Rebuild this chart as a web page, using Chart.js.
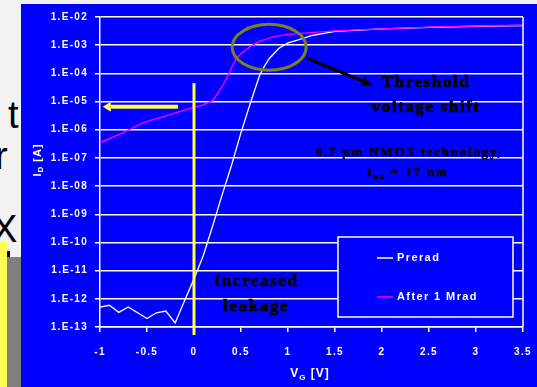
<!DOCTYPE html>
<html>
<head>
<meta charset="utf-8">
<script src="https://cdn.jsdelivr.net/npm/chart.js"></script>
<style>
body{margin:0;background:#f2f2f2;width:537px;height:387px;overflow:hidden;position:relative;font-family:"Liberation Sans",Arial,sans-serif;}
.ltr{position:absolute;font-size:38px;line-height:38px;color:#000;}
#box{position:absolute;left:21px;top:4px;width:516px;height:383px;background:#0000ff;}
</style>
</head>
<body>
<div class="ltr" style="left:8px;top:96px">t</div>
<div class="ltr" style="left:-5px;top:137px">r</div>
<div class="ltr" style="left:-8px;top:210px">X</div>
<div style="position:absolute;left:0;top:242px;width:7px;height:145px;background:#ffff55"></div>
<div style="position:absolute;left:7px;top:257px;width:15px;height:130px;background:#808080"></div>
<div style="position:absolute;left:7px;top:251px;width:3px;height:6px;background:#000"></div>
<div id="box"><canvas id="ivc"></canvas></div>
<script>
// gate voltage (V) and drain current (A)
var vgPre = [-1, -0.9, -0.8, -0.7, -0.5, -0.4, -0.3, -0.2, -0.1, 0, 0.1, 0.2, 0.3, 0.4, 0.5, 0.6, 0.7, 0.75, 0.8, 0.9, 1.0, 1.1, 1.25, 1.5, 2.0, 2.5, 3.0, 3.5];
var idPre = [5.1e-13, 5.9e-13, 3.3e-13, 5.1e-13, 2.0e-13, 3.2e-13, 3.7e-13, 1.4e-13, 8.7e-13, 5.1e-12, 3.5e-11, 4.0e-10, 5.0e-9, 5.6e-8, 7.9e-7, 8.9e-6, 8.9e-5, 1.8e-4, 3.3e-4, 7.6e-4, 1.2e-3, 1.5e-3, 2.2e-3, 3.1e-3, 3.8e-3, 4.3e-3, 4.7e-3, 5.0e-3];
var vgRad = [-1, -0.75, -0.54, -0.25, 0, 0.1, 0.2, 0.25, 0.3, 0.35, 0.4, 0.45, 0.5, 0.6, 0.7, 0.85, 1.0, 1.25, 1.5, 2.0, 2.5, 3.0, 3.5];
var idRad = [3.5e-7, 7.9e-7, 1.8e-6, 3.5e-6, 6.3e-6, 7.6e-6, 1.1e-5, 1.9e-5, 3.5e-5, 6.9e-5, 1.6e-4, 3.3e-4, 5.0e-4, 9.1e-4, 1.4e-3, 2.0e-3, 2.4e-3, 2.8e-3, 3.2e-3, 3.8e-3, 4.4e-3, 4.8e-3, 5.1e-3];
var seriesNames = ['Prerad', 'After 1 Mrad'];
var yDecades = [-13, -12, -11, -10, -9, -8, -7, -6, -5, -4, -3, -2];

function pts(xs, ys) {
    var out = [];
    for (var i = 0; i < xs.length; i++) out.push({x: xs[i], y: ys[i]});
    return out;
}

function say(ctx, s, x, y, font, sp, align, heavy) {
    ctx.font = font;
    ctx.letterSpacing = sp + 'px';
    ctx.textAlign = align || 'center';
    ctx.textBaseline = 'middle';
    ctx.fillText(s, x, y);
    if (heavy) {
        ctx.strokeStyle = ctx.fillStyle; ctx.lineWidth = heavy;
        ctx.strokeText(s, x, y);
    }
}

function arrow(ctx, x1, y1, x2, y2, w, head, hw, col) {
    var ang = Math.atan2(y2 - y1, x2 - x1);
    var bx = x2 - head * Math.cos(ang), by = y2 - head * Math.sin(ang);
    ctx.strokeStyle = col; ctx.fillStyle = col; ctx.lineWidth = w;
    ctx.beginPath(); ctx.moveTo(x1, y1); ctx.lineTo(bx, by); ctx.stroke();
    ctx.beginPath();
    ctx.moveTo(x2, y2);
    ctx.lineTo(bx + hw * Math.sin(ang), by - hw * Math.cos(ang));
    ctx.lineTo(bx - hw * Math.sin(ang), by + hw * Math.cos(ang));
    ctx.closePath(); ctx.fill();
}

var deco = {
    id: 'deco',
    beforeDraw: function(chart) {
        chart.ctx.letterSpacing = '1.3px';
    },
    afterDatasetsDraw: function(chart) {
        var ctx = chart.ctx, sx = chart.scales.x, sy = chart.scales.y, a = chart.chartArea;
        ctx.save();
        // right frame
        ctx.strokeStyle = '#ffffff'; ctx.lineWidth = 1.5;
        ctx.beginPath(); ctx.moveTo(a.right, a.top); ctx.lineTo(a.right, a.bottom); ctx.stroke();

        // yellow marker at VG = 0
        var x0 = sx.getPixelForValue(0);
        ctx.strokeStyle = '#ffff40'; ctx.lineWidth = 3;
        ctx.beginPath(); ctx.moveTo(x0, sy.getPixelForValue(4.5e-5)); ctx.lineTo(x0, a.bottom + 8); ctx.stroke();
        var ya = sy.getPixelForValue(6.5e-6);
        arrow(ctx, sx.getPixelForValue(-0.17), ya, sx.getPixelForValue(-0.97), ya, 4, 8, 5, '#ffff50');

        // olive ellipse round the knee
        ctx.strokeStyle = '#80801a'; ctx.lineWidth = 3;
        ctx.beginPath();
        ctx.ellipse(sx.getPixelForValue(0.8), sy.getPixelForValue(8.5e-4), 37, 23, 0, 0, Math.PI * 2);
        ctx.stroke();

        // black arrow
        arrow(ctx, sx.getPixelForValue(1.2), sy.getPixelForValue(3.5e-4),
              sx.getPixelForValue(1.9), sy.getPixelForValue(3.8e-5), 3, 11, 5, '#000000');

        // notes
        ctx.fillStyle = '#000000';
        var serif = '"Liberation Serif","Times New Roman",serif';
        say(ctx, 'Threshold', 405, 79, 'bold 17px ' + serif, 1.6, 'center', 0.7);
        say(ctx, 'voltage shift', 405, 104, 'bold 17px ' + serif, 1.6, 'center', 0.7);
        say(ctx, '0.7 \u03bcm NMOS technology,', 388, 149, 'bold 13px ' + serif, 1.8, 'center', 0.5);
        // t_ox = 17 nm
        ctx.letterSpacing = '1.8px';
        ctx.font = 'bold 13px ' + serif; var w1 = ctx.measureText('t').width;
        ctx.font = 'bold 9px ' + serif; var w2 = ctx.measureText('ox').width;
        ctx.font = 'bold 13px ' + serif; var w3 = ctx.measureText(' = 17 nm').width;
        var tx = 387 - (w1 + w2 + w3) / 2;
        say(ctx, 't', tx, 169, 'bold 13px ' + serif, 1.8, 'left', 0.5);
        say(ctx, 'ox', tx + w1, 173, 'bold 9px ' + serif, 1.8, 'left', 0.4);
        say(ctx, ' = 17 nm', tx + w1 + w2, 169, 'bold 13px ' + serif, 1.8, 'left', 0.5);
        say(ctx, 'Increased', 235, 278, 'bold 17px ' + serif, 1.6, 'center', 0.7);
        say(ctx, 'leakage', 235, 303, 'bold 17px ' + serif, 1.6, 'center', 0.7);

        // legend
        var lx = 317, ly = 233, lw = 175, lh = 80;
        ctx.fillStyle = '#0000ff'; ctx.fillRect(lx, ly, lw, lh);
        ctx.strokeStyle = '#ffffff'; ctx.lineWidth = 1.5; ctx.strokeRect(lx, ly, lw, lh);
        var rows = [254, 293];
        chart.data.datasets.forEach(function(ds, i) {
            ctx.strokeStyle = ds.borderColor; ctx.lineWidth = 1.5;
            ctx.beginPath(); ctx.moveTo(356, rows[i]); ctx.lineTo(372, rows[i]); ctx.stroke();
            ctx.fillStyle = '#ffffff';
            say(ctx, ds.label, 376, rows[i], 'bold 11px "Liberation Sans",Arial,sans-serif', 1.4, 'left');
        });

        // axis titles
        var sans = '"Liberation Sans",Arial,sans-serif';
        ctx.fillStyle = '#ffffff';
        ctx.font = 'bold 12px ' + sans; ctx.letterSpacing = '1px';
        var a1 = ctx.measureText('V').width, a3 = ctx.measureText(' [V]').width;
        ctx.font = 'bold 8px ' + sans; var a2 = ctx.measureText('G').width;
        var vx = 289 - (a1 + a2 + a3) / 2;
        say(ctx, 'V', vx, 370, 'bold 12px ' + sans, 1, 'left');
        say(ctx, 'G', vx + a1, 374, 'bold 8px ' + sans, 1, 'left');
        say(ctx, ' [V]', vx + a1 + a2, 370, 'bold 12px ' + sans, 1, 'left');

        ctx.translate(17, 156);
        ctx.rotate(-Math.PI / 2);
        ctx.font = 'bold 11px ' + sans; ctx.letterSpacing = '1px';
        var b1 = ctx.measureText('I').width, b3 = ctx.measureText(' [A]').width;
        ctx.font = 'bold 8px ' + sans; var b2 = ctx.measureText('D').width;
        var bx = -(b1 + b2 + b3) / 2;
        say(ctx, 'I', bx, 0, 'bold 11px ' + sans, 1, 'left');
        say(ctx, 'D', bx + b1, 3, 'bold 8px ' + sans, 1, 'left');
        say(ctx, ' [A]', bx + b1 + b2, 0, 'bold 11px ' + sans, 1, 'left');
        ctx.restore();
    }
};

var ctx = document.getElementById('ivc').getContext('2d');
var myChart = new Chart(ctx, {
    type: 'line',
    data: {
        datasets: [{
            label: seriesNames[0],
            data: pts(vgPre, idPre),
            borderColor: '#ffffff',
            borderWidth: 1.3,
            pointRadius: 0,
            order: 1
        },
        {
            label: seriesNames[1],
            data: pts(vgRad, idRad),
            borderColor: '#ff00ff',
            borderWidth: 1.3,
            pointRadius: 0,
            order: 0
        }]
    },
    options: {
        responsive: true,
        maintainAspectRatio: false,
        animation: false,
        layout: { padding: { top: 12, right: 14, left: 0, bottom: 0 } },
        plugins: { legend: { display: false }, tooltip: { enabled: false } },
        scales: {
            x: {
                type: 'linear',
                min: -1, max: 3.5,
                afterFit: function(s) { s.height = 60; s.paddingRight = 0; s.paddingLeft = 0; },
                grid: { drawOnChartArea: false, color: '#ffffff', lineWidth: 1.5, tickLength: 5 },
                border: { color: '#ffffff', width: 1.5 },
                ticks: {
                    stepSize: 0.5, padding: 14, color: '#ffffff',
                    font: { family: '"Liberation Sans",Arial,sans-serif', size: 10, weight: 'bold' },
                    callback: function(v) { return String(Math.round(v * 10) / 10); }
                }
            },
            y: {
                type: 'logarithmic',
                min: 1e-13, max: 1e-2,
                afterFit: function(s) { s.width = 79; },
                afterBuildTicks: function(s) {
                    s.ticks = yDecades.map(function(e) { return { value: Math.pow(10, e) }; });
                },
                grid: { color: '#ffffff', lineWidth: 1.5, tickLength: 5 },
                border: { color: '#ffffff', width: 1.5 },
                ticks: {
                    padding: 7, color: '#ffffff',
                    font: { family: '"Liberation Sans",Arial,sans-serif', size: 10, weight: 'bold' },
                    callback: function(v) {
                        var e = -Math.round(Math.log10(v));
                        return '1.E-' + (e < 10 ? '0' : '') + e;
                    }
                }
            }
        }
    },
    plugins: [deco]
});
</script>
</body>
</html>
